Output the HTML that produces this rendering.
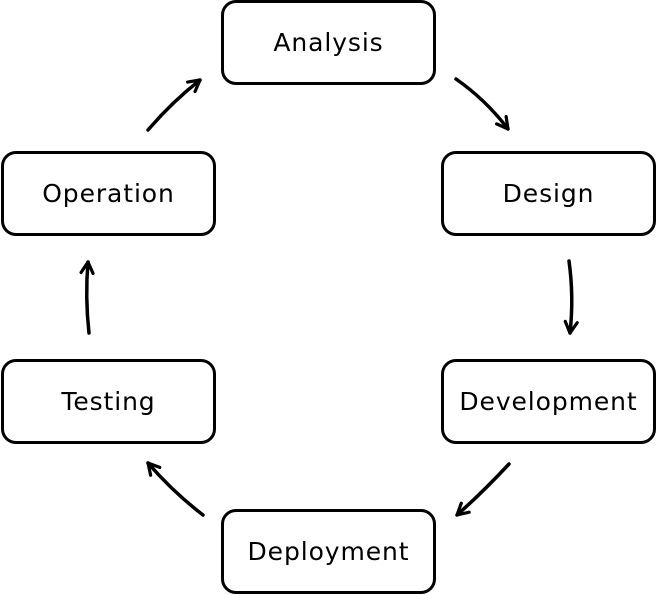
<!DOCTYPE html>
<html><head><style>
html,body{margin:0;padding:0;background:#fff;}
body{width:657px;height:595px;position:relative;overflow:hidden;}
.b{position:absolute;box-sizing:border-box;border:3.5px solid #000;border-radius:15px;width:215px;height:85px;display:flex;align-items:center;justify-content:center;font-family:"DejaVu Sans","Liberation Sans",sans-serif;font-size:25px;letter-spacing:0.9px;color:#000;}
svg{position:absolute;left:0;top:0;}
</style></head><body>
<div class="b" style="left:221px;top:0px;">Analysis</div>
<div class="b" style="left:441px;top:151px;">Design</div>
<div class="b" style="left:441px;top:359px;">Development</div>
<div class="b" style="left:221px;top:509px;">Deployment</div>
<div class="b" style="left:1px;top:359px;">Testing</div>
<div class="b" style="left:1px;top:151px;">Operation</div>
<svg width="657" height="595" viewBox="0 0 657 595">
<defs><marker id="a" markerWidth="16" markerHeight="16" refX="13" refY="8" orient="auto" markerUnits="userSpaceOnUse"><path d="M2,2 L13,8 L2,14" fill="none" stroke="#000" stroke-width="3.2" stroke-linecap="round" stroke-linejoin="round"/></marker></defs>
<g fill="none" stroke="#000" stroke-width="3.5" stroke-linecap="round" marker-end="url(#a)">
<path d="M456,79 Q486,100 508,129"/>
<path d="M569,261 Q574,297 570,333"/>
<path d="M509,464 Q483,492 457,515"/>
<path d="M203,515 Q173,492 148,463"/>
<path d="M89,333 Q85,297 88,262"/>
<path d="M148,130 Q172,102 200,80"/>
</g>
</svg>
</body></html>
